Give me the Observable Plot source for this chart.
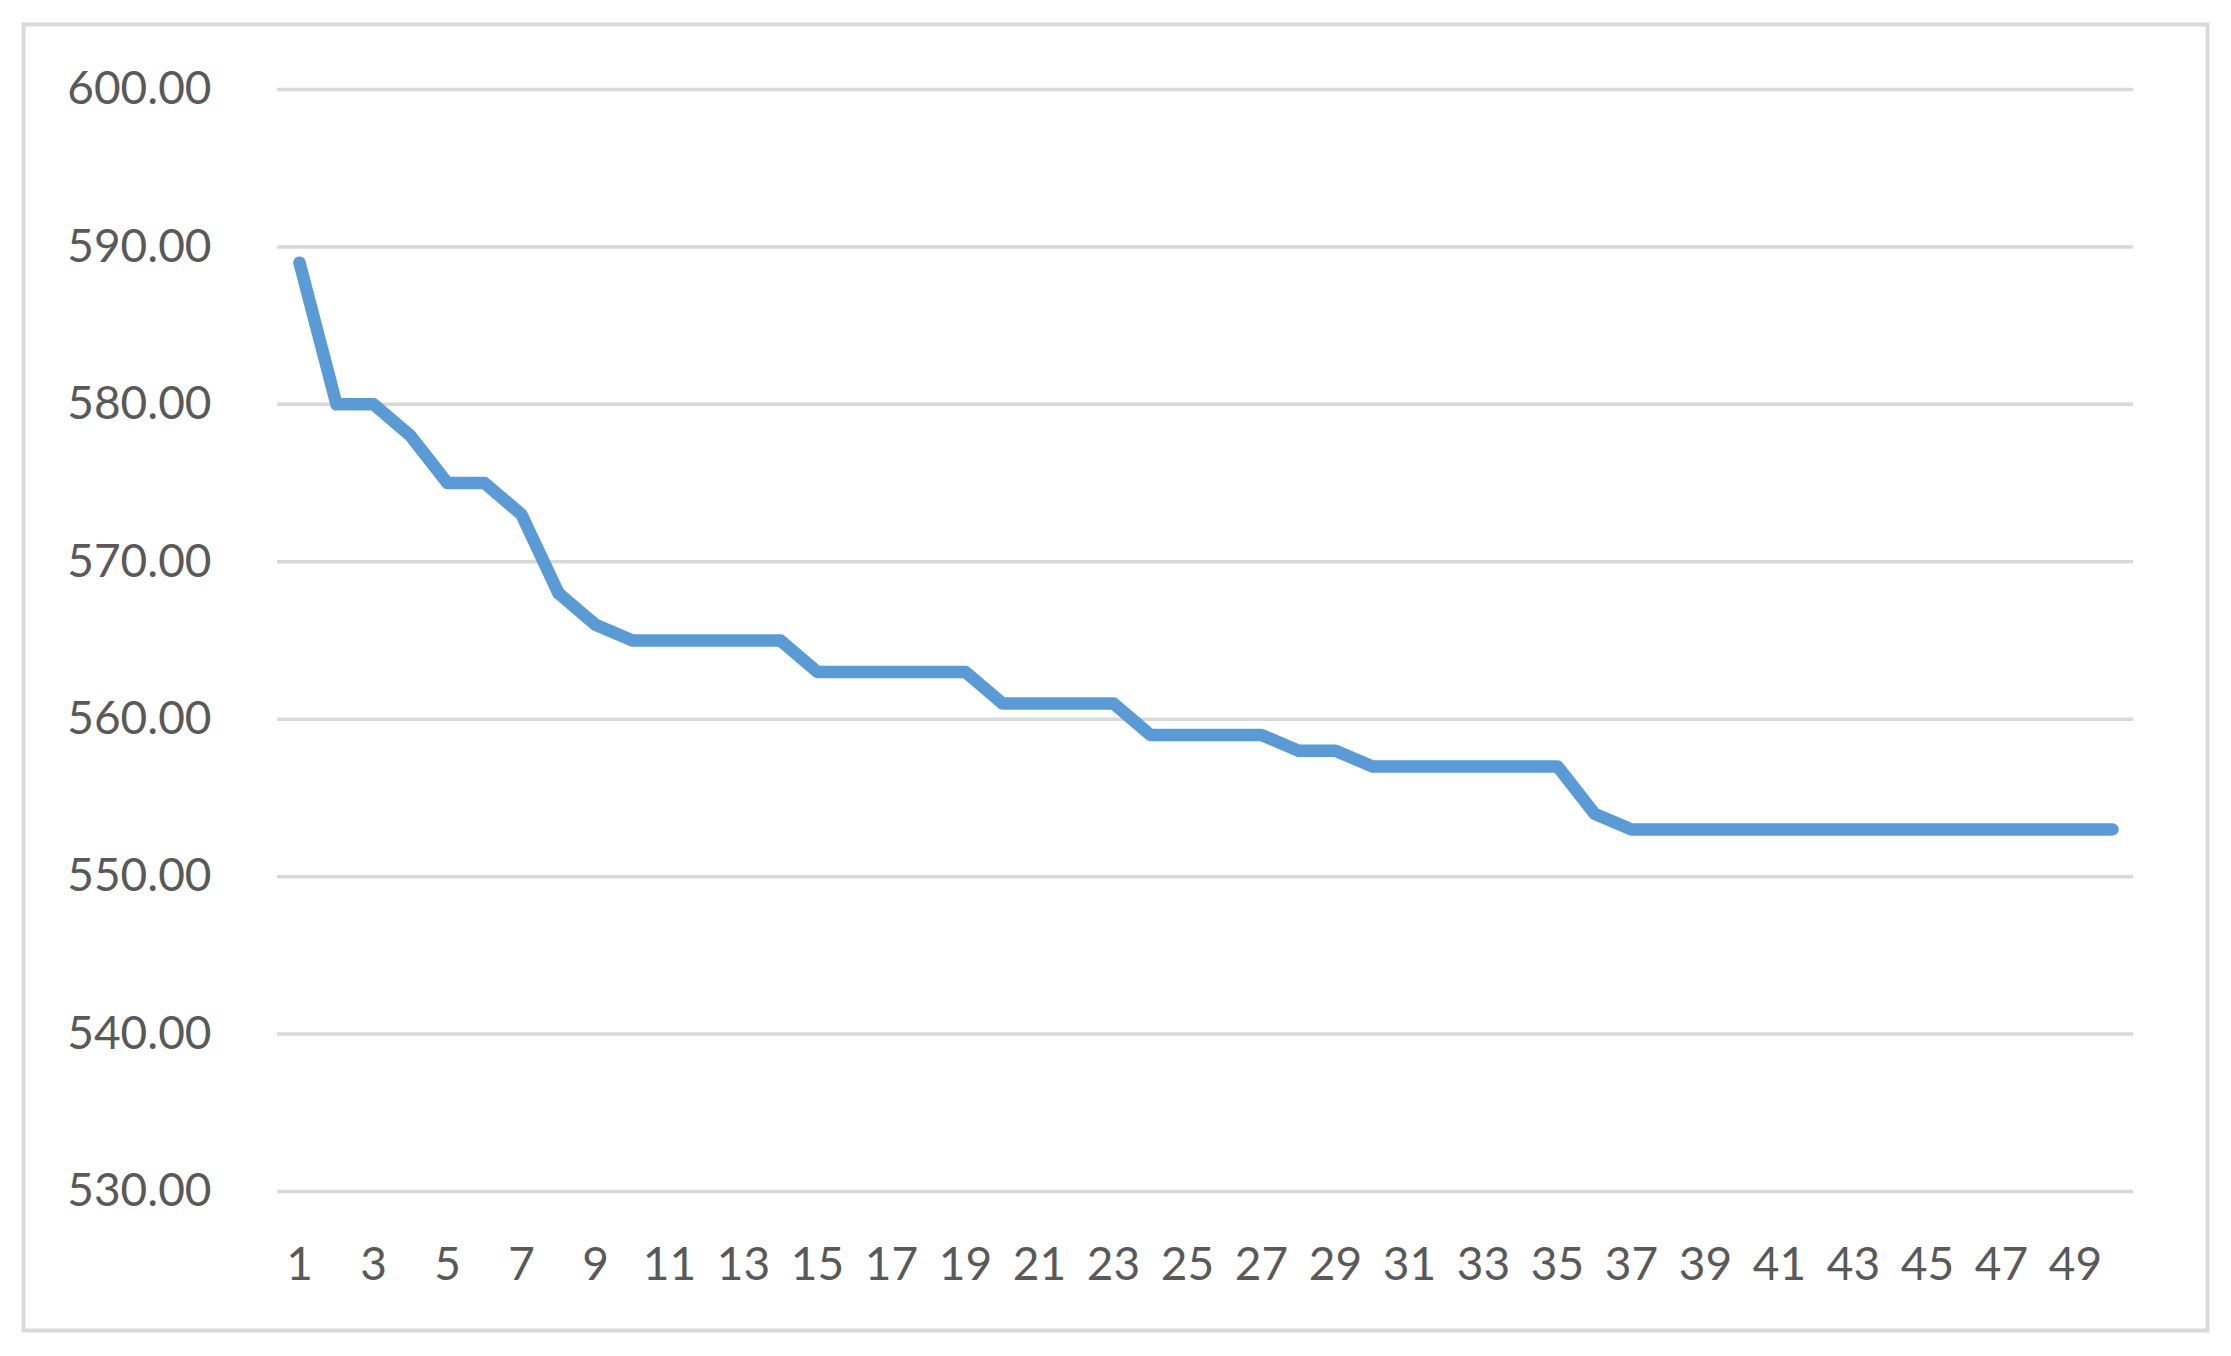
<!DOCTYPE html>
<html>
<head>
<meta charset="utf-8">
<script src="https://cdn.jsdelivr.net/npm/d3@7"></script>
<script src="https://cdn.jsdelivr.net/npm/@observablehq/plot@0.6"></script>
<style>
  html, body { margin: 0; padding: 0; background: #fff; }
  #chart svg { display: block; }
</style>
</head>
<body>
<div id="chart"></div>
<script>
// Categories (iteration numbers) and the series values
const iterations = [1,2,3,4,5,6,7,8,9,10,11,12,13,14,15,16,17,18,19,20,21,22,23,24,25,26,27,28,29,30,31,32,33,34,35,36,37,38,39,40,41,42,43,44,45,46,47,48,49,50];
const values = [589,580,580,578,575,575,573,568,566,565,565,565,565,565,563,563,563,563,563,561,561,561,561,559,559,559,559,558,558,557,557,557,557,557,557,554,553,553,553,553,553,553,553,553,553,553,553,553,553,553];
const xTickLabels = [1,3,5,7,9,11,13,15,17,19,21,23,25,27,29,31,33,35,37,39,41,43,45,47,49];
const yTickValues = [530,540,550,560,570,580,590,600];

const data = iterations.map((it, k) => ({it, v: values[k]}));

const W = 2231, H = 1356;
const mL = 277, mR = 98, mT = 89, mB = 165;

const chart = Plot.plot({
  width: W,
  height: H,
  marginLeft: mL,
  marginRight: mR,
  marginTop: mT,
  marginBottom: mB,
  style: {fontFamily: "Lato, 'Open Sans', sans-serif", fontSize: "46px", color: "#595959", background: "#fff"},
  x: {type: "point", domain: iterations, padding: 0.5},
  y: {domain: [530, 600]},
  marks: [
    Plot.frame({stroke: "#d9d9d9", strokeWidth: 4, fill: "none",
      insetLeft: -(mL - 23), insetTop: -(mT - 24), insetRight: -(2207 - (W - mR)), insetBottom: -(1330 - (H - mB))}),
    Plot.ruleY(yTickValues, {stroke: "#d9d9d9", strokeWidth: 3.5}),
    Plot.axisY({ticks: yTickValues, tickSize: 0, tickPadding: 66, tickFormat: d => d.toFixed(2), label: null, fill: "#595959", fontSize: 46}),
    Plot.axisX({ticks: xTickLabels, tickSize: 0, tickPadding: 56, label: null, fill: "#595959", fontSize: 46}),
    Plot.line(data, {x: "it", y: "v", stroke: "#5B9BD5", strokeWidth: 12.5, strokeLinecap: "round", strokeLinejoin: "round"})
  ]
});
document.getElementById("chart").appendChild(chart);
</script>
</body>
</html>
